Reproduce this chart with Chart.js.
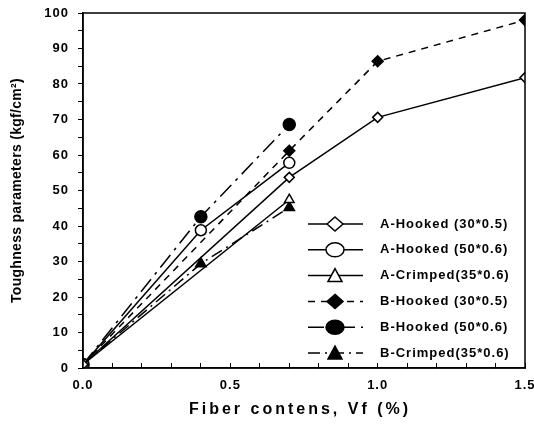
<!DOCTYPE html>
<html lang="en">
<head>
<meta charset="UTF-8">
<title>Toughness parameters vs fiber contents</title>
<script src="https://cdn.jsdelivr.net/npm/chart.js"></script>
<style>
  body { margin: 0; background: #fff; }
</style>
</head>
<body>
<canvas id="toughChart" width="534" height="430"></canvas>
<script>
// series labels
const seriesNames = [
  'A-Hooked (30*0.5)',
  'A-Hooked (50*0.6)',
  'A-Crimped(35*0.6)',
  'B-Hooked (30*0.5)',
  'B-Hooked (50*0.6)',
  'B-Crimped(35*0.6)'
];

// fiber contents Vf (%) and toughness (kgf/cm2)
const vfAH30 = [0, 0.7, 1.0, 1.5];
const tAH30  = [1, 53.7, 70.6, 81.8];
const vfAH50 = [0, 0.4, 0.7];
const tAH50  = [1, 38.8, 57.8];
const vfAC35 = [0, 0.7];
const tAC35  = [1, 47.4];
const vfBH30 = [0, 0.7, 1.0, 1.5];
const tBH30  = [1, 61.2, 86.4, 98.0];
const vfBH50 = [0, 0.4, 0.7];
const tBH50  = [1, 42.6, 68.6];
const vfBC35 = [0, 0.4, 0.7];
const tBC35  = [1, 29.4, 45.2];

const xTickLabels = ['0.0', '0.5', '1.0', '1.5'];
const xTitle = 'Fiber contens, Vf (%)';
const yTitle = 'Toughness parameters (kgf/cm\u00B2)';

function pts(xs, ys) {
  return xs.map((x, i) => ({ x: x, y: ys[i] }));
}

function series(i, xs, ys, shape, filled, dash, r) {
  return {
    label: seriesNames[i],
    data: pts(xs, ys),
    borderColor: '#000',
    borderWidth: 1.5,
    borderDash: dash,
    pointStyle: shape,
    pointRadius: r,
    pointBorderWidth: 1.5,
    pointBorderColor: '#000',
    pointBackgroundColor: filled ? '#000' : '#fff',
    fill: false,
    tension: 0
  };
}

const datasets = [
  series(0, vfAH30, tAH30, 'rectRot', false, [], 5),
  series(1, vfAH50, tAH50, 'circle', false, [], 5.5),
  series(2, vfAC35, tAC35, 'triangle', false, [], 5.5),
  series(3, vfBH30, tBH30, 'rectRot', true, [7, 6], 5.5),
  series(4, vfBH50, tBH50, 'circle', true, [16, 6, 3, 6], 6),
  series(5, vfBC35, tBC35, 'triangle', true, [12, 5, 2, 5], 6)
];

const FONT = '"Liberation Sans", Arial, sans-serif';

// white background, frame, axis titles
const framePlugin = {
  id: 'frame',
  beforeLayout(chart) { chart.ctx.letterSpacing = '1px'; },
  beforeDraw(chart) {
    const ctx = chart.ctx;
    ctx.letterSpacing = '1px';
    ctx.save();
    ctx.fillStyle = '#fff';
    ctx.fillRect(0, 0, chart.width, chart.height);
    ctx.restore();
  },
  afterDraw(chart) {
    const ctx = chart.ctx;
    const a = chart.chartArea;
    ctx.save();
    ctx.strokeStyle = '#000';
    ctx.lineWidth = 1.5;
    ctx.strokeRect(a.left, a.top, a.right - a.left, a.bottom - a.top);

    ctx.fillStyle = '#000';
    ctx.textAlign = 'center';
    ctx.textBaseline = 'middle';
    ctx.letterSpacing = '3px';
    ctx.font = 'bold 16px ' + FONT;
    ctx.fillText(xTitle, (a.left + a.right) / 2 - 4, 410);

    ctx.letterSpacing = '0.3px';
    ctx.font = 'bold 14px ' + FONT;
    ctx.translate(17, (a.top + a.bottom) / 2);
    ctx.rotate(-Math.PI / 2);
    ctx.fillText(yTitle, 0, 0);
    ctx.restore();
  }
};

// legend drawn inside the plot, lower right
const legendPlugin = {
  id: 'insideLegend',
  afterDraw(chart) {
    const ctx = chart.ctx;
    const x0 = 308, x1 = 363, mx = 335, tx = 380, y0 = 224, dy = 25.8;
    ctx.save();
    ctx.letterSpacing = '1px';
    ctx.font = 'bold 13px ' + FONT;
    ctx.textBaseline = 'middle';
    chart.data.datasets.forEach((ds, i) => {
      const y = y0 + i * dy;
      ctx.strokeStyle = '#000';
      ctx.lineWidth = 1.5;
      ctx.setLineDash(ds.borderDash);
      ctx.beginPath();
      ctx.moveTo(x0, y);
      ctx.lineTo(x1, y);
      ctx.stroke();
      ctx.setLineDash([]);
      ctx.fillStyle = ds.pointBackgroundColor;
      ctx.beginPath();
      if (ds.pointStyle === 'rectRot') {
        ctx.moveTo(mx, y - 7); ctx.lineTo(mx + 8, y); ctx.lineTo(mx, y + 7); ctx.lineTo(mx - 8, y);
        ctx.closePath();
      } else if (ds.pointStyle === 'circle') {
        ctx.ellipse(mx, y, 9, 7, 0, 0, Math.PI * 2);
      } else {
        ctx.moveTo(mx, y - 7); ctx.lineTo(mx + 7, y + 6); ctx.lineTo(mx - 7, y + 6);
        ctx.closePath();
      }
      ctx.fill();
      ctx.stroke();
      ctx.fillStyle = '#000';
      ctx.fillText(ds.label, tx, y);
    });
    ctx.restore();
  }
};

const config = {
  type: 'line',
  data: { datasets: datasets },
  options: {
    responsive: false,
    animation: false,
    devicePixelRatio: 1,
    layout: { padding: { top: 13, right: 9, left: 0, bottom: 0 } },
    plugins: {
      legend: { display: false },
      tooltip: { enabled: false }
    },
    scales: {
      x: {
        type: 'linear',
        min: 0,
        max: 1.5,
        afterFit(scale) {
          scale.height = 62;
          scale.paddingLeft = 0;
          scale.paddingRight = 0;
        },
        border: { display: true, color: '#000', width: 1.5 },
        grid: { drawOnChartArea: false, drawTicks: true, tickLength: -5, color: '#000', lineWidth: 1 },
        ticks: {
          stepSize: 0.1,
          autoSkip: false,
          maxRotation: 0,
          padding: 15,
          color: '#000',
          font: { family: FONT, size: 13, weight: 'bold' },
          callback(v) {
            const k = Math.round(v * 10);
            return k % 5 === 0 ? xTickLabels[k / 5] : '';
          }
        }
      },
      y: {
        min: 0,
        max: 100,
        afterFit(scale) {
          scale.width = 83;
          scale.paddingTop = 0;
          scale.paddingBottom = 0;
        },
        border: { display: true, color: '#000', width: 1.5 },
        grid: { drawOnChartArea: false, drawTicks: true, tickLength: 5, color: '#000', lineWidth: 1 },
        ticks: {
          stepSize: 5,
          autoSkip: false,
          padding: 9,
          color: '#000',
          font: { family: FONT, size: 13, weight: 'bold' },
          callback(v) { return v % 10 === 0 ? String(v) : ''; }
        }
      }
    }
  },
  plugins: [framePlugin, legendPlugin]
};

const chart = new Chart(document.getElementById('toughChart'), config);
</script>
</body>
</html>
